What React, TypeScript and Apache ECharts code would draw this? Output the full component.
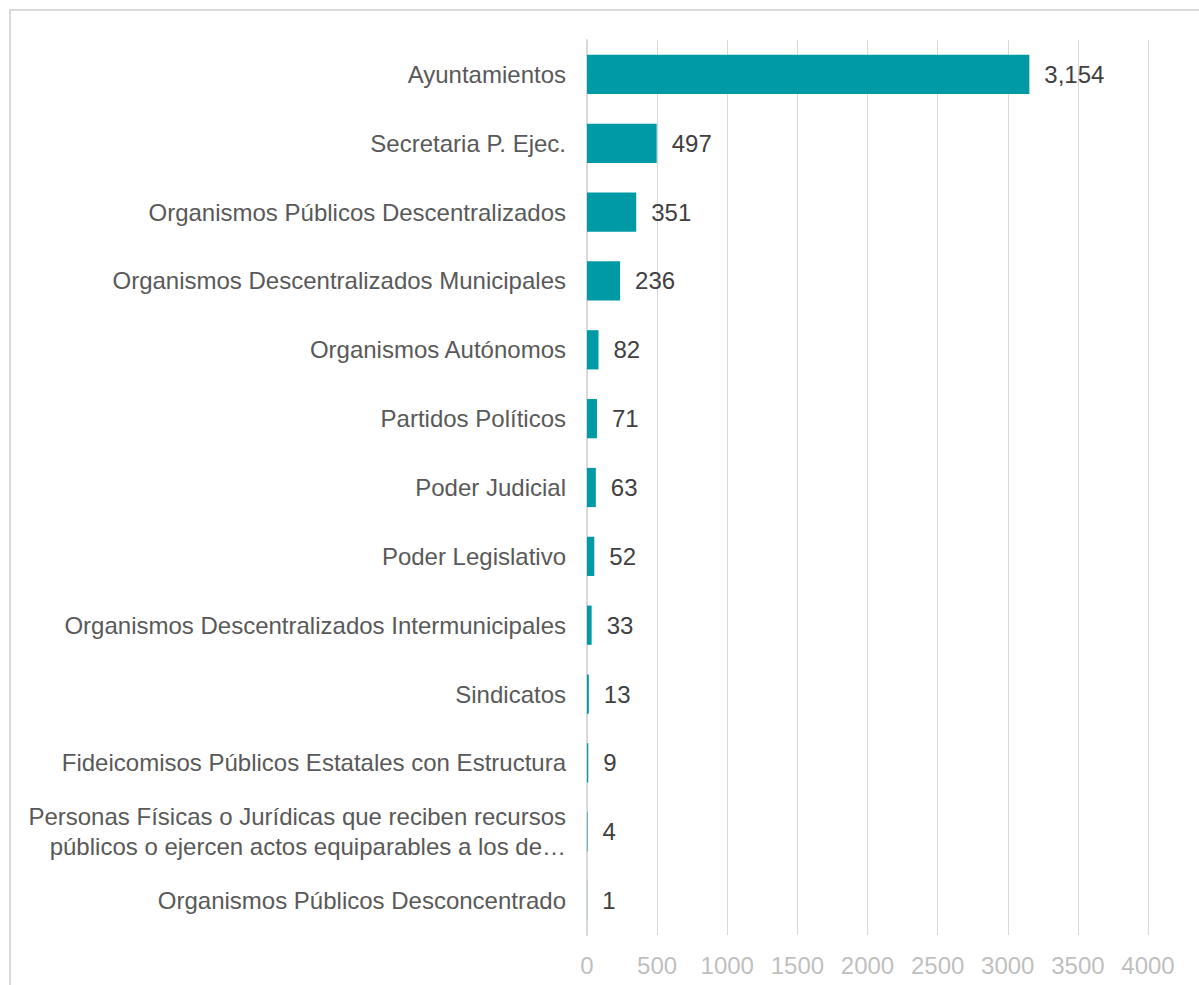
import React, { useEffect, useRef } from "react";
import * as echarts from "echarts";

const categories: string[] = [
  "Ayuntamientos",
  "Secretaria P. Ejec.",
  "Organismos Públicos Descentralizados",
  "Organismos Descentralizados Municipales",
  "Organismos Autónomos",
  "Partidos Políticos",
  "Poder Judicial",
  "Poder Legislativo",
  "Organismos Descentralizados Intermunicipales",
  "Sindicatos",
  "Fideicomisos Públicos Estatales con Estructura",
  "Personas Físicas o Jurídicas que reciben recursos\npúblicos o ejercen actos equiparables a los de…",
  "Organismos Públicos Desconcentrado",
];
const values: number[] = [3154, 497, 351, 236, 82, 71, 63, 52, 33, 13, 9, 4, 1];
const xTicks: number[] = [0, 500, 1000, 1500, 2000, 2500, 3000, 3500, 4000];

export default function App() {
  const ref = useRef<HTMLDivElement>(null);
  useEffect(() => {
    if (!ref.current) return;
    const chart = echarts.init(ref.current, null, { renderer: "svg" });
    const font = "'Liberation Sans', Arial, sans-serif";
    chart.setOption({
      animation: false,
      textStyle: { fontFamily: font },
      graphic: [
        {
          type: "rect",
          shape: { x: 10, y: 10, width: 1300, height: 1100 },
          style: { fill: "none", stroke: "#d9d9d9", lineWidth: 2 },
          silent: true,
        },
      ],
      grid: { left: 587, right: 51, top: 40, bottom: 50, containLabel: false },
      xAxis: {
        type: "value",
        min: xTicks[0],
        max: xTicks[xTicks.length - 1],
        interval: 500,
        axisLine: { show: false },
        axisTick: { show: false },
        splitLine: { show: true, lineStyle: { color: "#d9d9d9", width: 1 } },
        axisLabel: {
          color: "#bfbfbf",
          fontSize: 24,
          margin: 18,
          fontFamily: font,
          formatter: (v: number) => String(v),
        },
      },
      yAxis: {
        type: "category",
        inverse: true,
        data: categories,
        axisLine: { show: true, lineStyle: { color: "#d9d9d9", width: 2 } },
        axisTick: { show: false },
        axisLabel: {
          color: "#595959",
          fontSize: 24,
          margin: 21,
          align: "right",
          lineHeight: 30,
          fontFamily: font,
        },
      },
      series: [
        {
          type: "bar",
          data: values,
          barCategoryGap: "43%",
          itemStyle: { color: "#009aa6" },
          label: {
            show: true,
            position: "right",
            distance: 15,
            color: "#404040",
            fontSize: 24,
            fontFamily: font,
            formatter: (p: any) => Number(p.value).toLocaleString("en-US"),
          },
        },
      ],
    });
    return () => chart.dispose();
  }, []);
  return (
    <div
      ref={ref}
      style={{ position: "absolute", left: 0, top: 0, width: 1199, height: 985 }}
    />
  );
}
